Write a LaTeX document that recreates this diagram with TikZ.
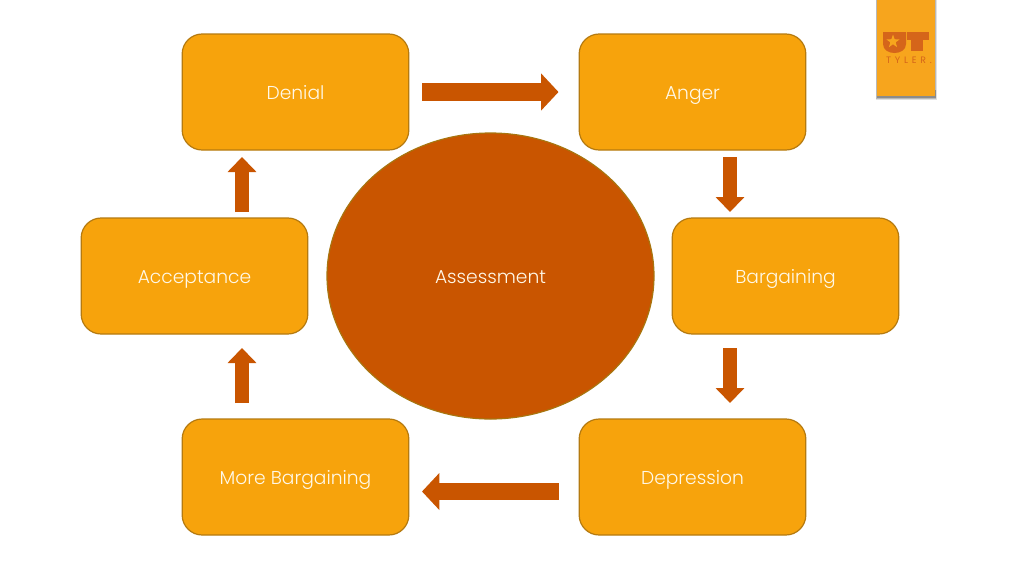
\documentclass[tikz,border=0pt]{standalone}
\usepackage{fontspec}
\setmainfont{Poppins Light}
\newfontfamily\logofont[LetterSpace=40]{Poppins}
\usetikzlibrary{arrows.meta,calc}
\definecolor{boxfill}{HTML}{F7A30C}
\definecolor{boxline}{HTML}{B57A10}
\definecolor{rust}{HTML}{C95500}
\definecolor{circline}{HTML}{A8750F}
\definecolor{tabfill}{HTML}{F7A51D}
\definecolor{logo}{HTML}{D5651A}
\definecolor{labeltext}{HTML}{FFF8E8}
\tikzset{
  stagebox/.style={draw=boxline,line width=0.9pt,fill=boxfill,rounded corners=15pt,
    minimum width=170pt,minimum height=87pt,inner sep=0pt,text=labeltext,
    font=\fontsize{14}{16}\selectfont,text height=11pt,text depth=0.5pt},
  hblock/.style={draw=rust,line width=13.1pt,-{Triangle[length=13pt,width=27pt]}},
  vblock/.style={draw=rust,line width=10.5pt,-{Triangle[length=11.25pt,width=21pt]}},
}
\begin{document}
\begin{tikzpicture}[x=0.75pt,y=-0.75pt]
\useasboundingbox (0,0) rectangle (1024,576);
\fill[white] (0,0) rectangle (1024,576);
\node[stagebox] (denial) at (295.5,92) {Denial};
\node[stagebox] (anger) at (692.5,92) {Anger};
\node[stagebox] (barg) at (785.5,276) {Bargaining};
\node[stagebox] (depr) at (692.5,477) {Depression};
\node[stagebox] (more) at (295.5,477) {More Bargaining};
\node[stagebox] (acc) at (194.5,276) {Acceptance};
\draw[draw=circline,line width=0.9pt,fill=rust] (490.5,276) ellipse [x radius=163.5,y radius=143];
\node[text=labeltext,font=\fontsize{14}{16}\selectfont,text height=11pt,text depth=0.5pt,inner sep=0pt] (assess) at (490.5,276) {Assessment};
\coordinate (a1) at (422,92); \coordinate (a2) at (558.5,92);
\coordinate (b1) at (730,157); \coordinate (b2) at (730,212);
\coordinate (c1) at (730,348); \coordinate (c2) at (730,403);
\coordinate (d1) at (558.5,491.5); \coordinate (d2) at (422,491.5);
\coordinate (e1) at (242,403); \coordinate (e2) at (242,348);
\coordinate (f1) at (242,212); \coordinate (f2) at (242,157);
\foreach \s/\t in {a1/a2,d1/d2}
  \draw[hblock] (\s) -- (\t);
\foreach \s/\t in {b1/b2,c1/c2,e1/e2,f1/f2}
  \draw[vblock] (\s) -- (\t);
% logo tab with soft shadow
\fill[black!12] (875.5,0) rectangle (937,99.5);
\fill[black!28] (876,0) rectangle (936,98.5);
\fill[black!45] (876.5,90) rectangle (935.5,98);
\fill[tabfill] (876.5,0) rectangle (935,96);
\fill[logo] (883,32) -- (906,32) -- (906,44) .. controls (906,56) and (883,56) .. (883,44) -- cycle;
\fill[tabfill] (893,34.5) -- (894.65,39.23) -- (899.66,39.34) -- (895.66,42.37) -- (897.11,47.16) -- (893,44.3) -- (888.89,47.16) -- (890.34,42.37) -- (886.34,39.34) -- (891.35,39.23) -- cycle;
\fill[logo] (907,32) rectangle (929,40);
\fill[logo] (911,32) rectangle (923,51);
\node[text=logo,font=\logofont\fontsize{7}{7}\selectfont,inner sep=0pt] (tyler) at (909,60) {TYLER.};
\end{tikzpicture}
\end{document}
